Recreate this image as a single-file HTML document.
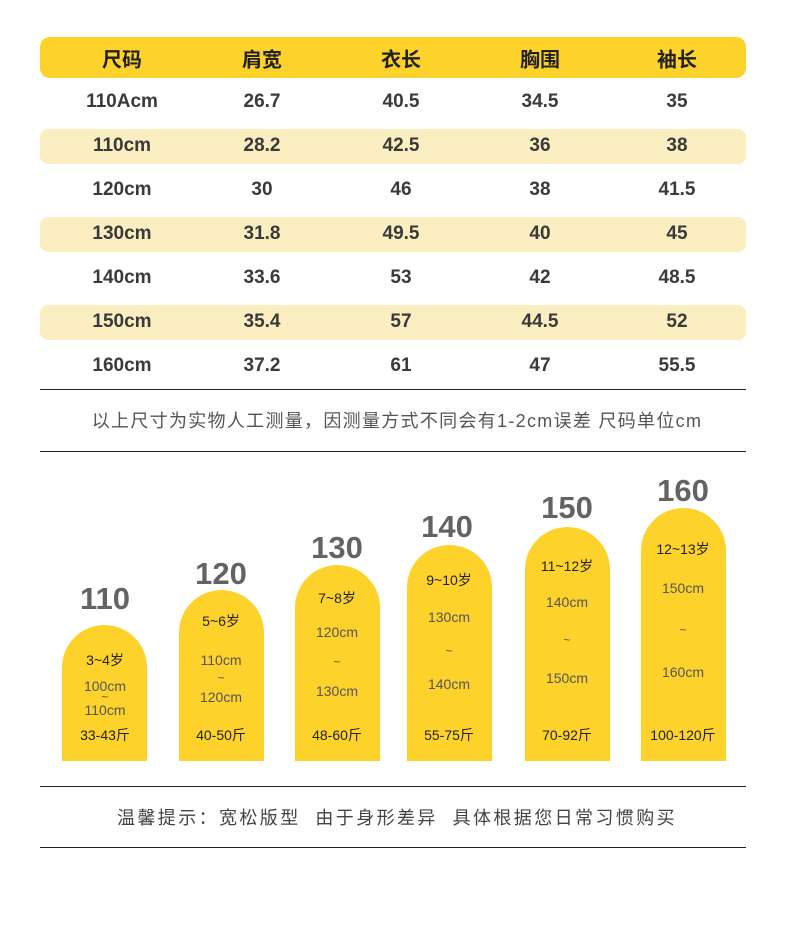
<!DOCTYPE html>
<html><head><meta charset="utf-8"><style>
*{margin:0;padding:0;box-sizing:border-box}
body{width:790px;height:948px;background:#fff;position:relative;overflow:hidden;font-family:"Liberation Sans","Noto Sans CJK SC",sans-serif}
.t{position:absolute;transform:translate(-50%,-50%);white-space:nowrap}
.h{font-size:20px;font-weight:bold;color:#222}
.c{font-size:19px;color:#3a3a3a;font-weight:bold}
.bar{position:absolute;left:40px;width:706px;border-radius:8px}
.line{position:absolute;left:40px;width:706px;height:1px;background:#222}
.arch{position:absolute;width:85px;background:#fdd22b;border-radius:42.5px 42.5px 0 0;bottom:187px}
.num{font-size:31px;font-weight:bold;color:#636363}
.ag{font-size:14px;color:#222}
.cm{font-size:14px;color:#555}
.tl{font-size:12px;color:#555}
</style></head><body>
<div class="bar" style="top:37px;height:41px;background:#fdd22b;border-radius:10px"></div>
<div class="bar" style="top:129px;height:35px;background:#fbeec0"></div>
<div class="bar" style="top:217px;height:35px;background:#fbeec0"></div>
<div class="bar" style="top:305px;height:35px;background:#fbeec0"></div>
<div class="line" style="top:389px"></div>
<div class="t" style="left:397px;top:420px;font-size:18px;color:#555;letter-spacing:1.3px">以上尺寸为实物人工测量，因测量方式不同会有1-2cm误差 尺码单位cm</div>
<div class="line" style="top:451px"></div>
<div class="line" style="top:786px"></div>
<div class="t" style="left:397px;top:817px;font-size:18px;color:#444;letter-spacing:2.4px">温馨提示：宽松版型&nbsp;&nbsp;由于身形差异&nbsp;&nbsp;具体根据您日常习惯购买</div>
<div class="line" style="top:847px"></div>

<div class="arch" style="left:62px;height:136px"></div>
<div class="arch" style="left:179px;height:171px"></div>
<div class="arch" style="left:295px;height:196px"></div>
<div class="arch" style="left:407px;height:216px"></div>
<div class="arch" style="left:525px;height:234px"></div>
<div class="arch" style="left:641px;height:253px"></div>

<div class="t num" style="left:105px;top:599px">110</div>
<div class="t num" style="left:221px;top:574px">120</div>
<div class="t num" style="left:337px;top:548px">130</div>
<div class="t num" style="left:447px;top:527px">140</div>
<div class="t num" style="left:567px;top:508px">150</div>
<div class="t num" style="left:683px;top:491px">160</div>

<div class="t ag" style="left:105px;top:660px">3~4岁</div>
<div class="t cm" style="left:105px;top:686px">100cm</div>
<div class="t tl" style="left:105px;top:697px">~</div>
<div class="t cm" style="left:105px;top:710px">110cm</div>
<div class="t ag" style="left:105px;top:735px">33-43斤</div>

<div class="t ag" style="left:221px;top:621px">5~6岁</div>
<div class="t cm" style="left:221px;top:660px">110cm</div>
<div class="t tl" style="left:221px;top:678px">~</div>
<div class="t cm" style="left:221px;top:697px">120cm</div>
<div class="t ag" style="left:221px;top:735px">40-50斤</div>

<div class="t ag" style="left:337px;top:598px">7~8岁</div>
<div class="t cm" style="left:337px;top:632px">120cm</div>
<div class="t tl" style="left:337px;top:662px">~</div>
<div class="t cm" style="left:337px;top:691px">130cm</div>
<div class="t ag" style="left:337px;top:735px">48-60斤</div>

<div class="t ag" style="left:449px;top:580px">9~10岁</div>
<div class="t cm" style="left:449px;top:617px">130cm</div>
<div class="t tl" style="left:449px;top:651px">~</div>
<div class="t cm" style="left:449px;top:684px">140cm</div>
<div class="t ag" style="left:449px;top:735px">55-75斤</div>

<div class="t ag" style="left:567px;top:566px">11~12岁</div>
<div class="t cm" style="left:567px;top:602px">140cm</div>
<div class="t tl" style="left:567px;top:640px">~</div>
<div class="t cm" style="left:567px;top:678px">150cm</div>
<div class="t ag" style="left:567px;top:735px">70-92斤</div>

<div class="t ag" style="left:683px;top:549px">12~13岁</div>
<div class="t cm" style="left:683px;top:588px">150cm</div>
<div class="t tl" style="left:683px;top:630px">~</div>
<div class="t cm" style="left:683px;top:672px">160cm</div>
<div class="t ag" style="left:683px;top:735px">100-120斤</div>

<div class="t h" style="left:122px;top:58px">尺码</div>
<div class="t h" style="left:262px;top:58px">肩宽</div>
<div class="t h" style="left:401px;top:58px">衣长</div>
<div class="t h" style="left:540px;top:58px">胸围</div>
<div class="t h" style="left:677px;top:58px">袖长</div>

<div class="t c" style="left:122px;top:102px">110Acm</div><div class="t c" style="left:262px;top:102px">26.7</div><div class="t c" style="left:401px;top:102px">40.5</div><div class="t c" style="left:540px;top:102px">34.5</div><div class="t c" style="left:677px;top:102px">35</div>
<div class="t c" style="left:122px;top:146px">110cm</div><div class="t c" style="left:262px;top:146px">28.2</div><div class="t c" style="left:401px;top:146px">42.5</div><div class="t c" style="left:540px;top:146px">36</div><div class="t c" style="left:677px;top:146px">38</div>
<div class="t c" style="left:122px;top:190px">120cm</div><div class="t c" style="left:262px;top:190px">30</div><div class="t c" style="left:401px;top:190px">46</div><div class="t c" style="left:540px;top:190px">38</div><div class="t c" style="left:677px;top:190px">41.5</div>
<div class="t c" style="left:122px;top:234px">130cm</div><div class="t c" style="left:262px;top:234px">31.8</div><div class="t c" style="left:401px;top:234px">49.5</div><div class="t c" style="left:540px;top:234px">40</div><div class="t c" style="left:677px;top:234px">45</div>
<div class="t c" style="left:122px;top:278px">140cm</div><div class="t c" style="left:262px;top:278px">33.6</div><div class="t c" style="left:401px;top:278px">53</div><div class="t c" style="left:540px;top:278px">42</div><div class="t c" style="left:677px;top:278px">48.5</div>
<div class="t c" style="left:122px;top:322px">150cm</div><div class="t c" style="left:262px;top:322px">35.4</div><div class="t c" style="left:401px;top:322px">57</div><div class="t c" style="left:540px;top:322px">44.5</div><div class="t c" style="left:677px;top:322px">52</div>
<div class="t c" style="left:122px;top:366px">160cm</div><div class="t c" style="left:262px;top:366px">37.2</div><div class="t c" style="left:401px;top:366px">61</div><div class="t c" style="left:540px;top:366px">47</div><div class="t c" style="left:677px;top:366px">55.5</div>
</body></html>
